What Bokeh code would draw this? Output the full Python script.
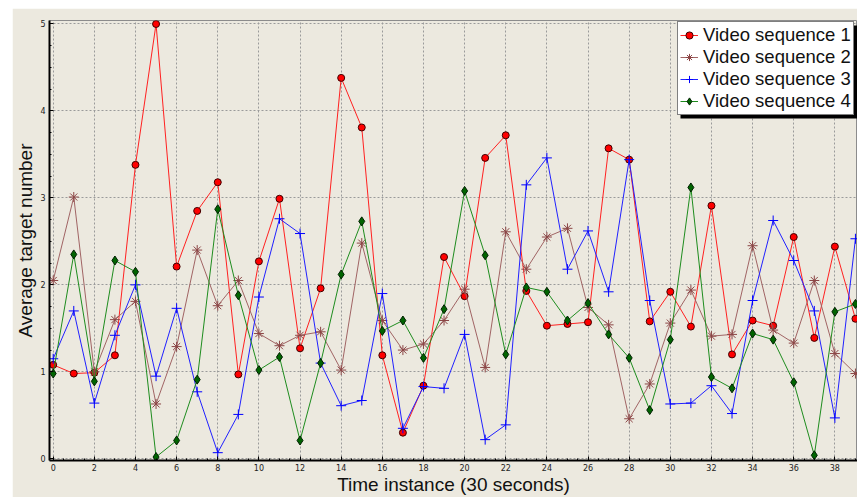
from bokeh.plotting import figure
from bokeh.models import SingleIntervalTicker, Range1d, Legend, LegendItem, Spacer, BoxAnnotation
from bokeh.layouts import column, row
from bokeh.embed import file_html
from bokeh.resources import INLINE

x = list(range(40))
x_ticks_interval = 2
y_ticks_interval = 1

seq1 = [1.08, 0.98, 0.99, 1.19, 3.38, 5.00, 2.21, 2.85, 3.18, 0.97,
        2.27, 2.99, 1.27, 1.96, 4.38, 3.81, 1.19, 0.30, 0.84, 2.32,
        1.87, 3.46, 3.72, 1.93, 1.53, 1.55, 1.57, 3.57, 3.44, 1.58,
        1.92, 1.52, 2.91, 1.20, 1.59, 1.53, 2.55, 1.39, 2.44, 1.61]
seq2 = [2.05, 3.01, 1.00, 1.60, 1.81, 0.63, 1.29, 2.40, 1.76, 2.05,
        1.44, 1.30, 1.42, 1.46, 1.02, 2.48, 1.59, 1.25, 1.32, 1.59,
        1.95, 1.05, 2.61, 2.18, 2.55, 2.65, 1.74, 1.54, 0.46, 0.86,
        1.56, 1.94, 1.41, 1.43, 2.45, 1.48, 1.33, 2.05, 1.21, 0.98]
seq3 = [1.15, 1.70, 0.64, 1.42, 2.00, 0.95, 1.73, 0.77, 0.07, 0.51,
        1.86, 2.76, 2.59, 1.10, 0.61, 0.67, 1.90, 0.35, 0.83, 0.81,
        1.43, 0.22, 0.39, 3.15, 3.46, 2.18, 2.62, 1.92, 3.44, 1.82,
        0.63, 0.64, 0.84, 0.52, 1.82, 2.74, 2.28, 1.70, 0.47, 2.53]
seq4 = [0.98, 2.35, 0.89, 2.28, 2.15, 0.02, 0.21, 0.91, 2.87, 1.88,
        1.02, 1.17, 0.21, 1.10, 2.12, 2.73, 1.47, 1.59, 1.16, 1.72,
        3.08, 2.34, 1.20, 1.97, 1.92, 1.59, 1.79, 1.43, 1.16, 0.56,
        1.37, 3.12, 0.94, 0.81, 1.44, 1.37, 0.88, 0.04, 1.69, 1.78]

names = ["Video sequence 1", "Video sequence 2", "Video sequence 3", "Video sequence 4"]

BG = "#ECE9DF"

p = figure(width=845, height=489, output_backend="svg", toolbar_location=None,
           x_range=Range1d(-0.18, 39.1), y_range=Range1d(-0.02, 5.04),
           min_border_left=37, min_border_right=0, min_border_top=12, min_border_bottom=37)
p.background_fill_color = BG
p.border_fill_color = BG
p.outline_line_color = "#8c8c8c"
p.outline_line_width = 1

p.xaxis.ticker = SingleIntervalTicker(interval=x_ticks_interval, num_minor_ticks=4)
p.yaxis.ticker = SingleIntervalTicker(interval=y_ticks_interval, num_minor_ticks=4)

for ax in (p.xaxis[0], p.yaxis[0]):
    ax.axis_line_color = "black"
    ax.axis_line_width = 2
    ax.major_tick_in = 4
    ax.major_tick_out = 0
    ax.minor_tick_in = 2
    ax.minor_tick_out = 0
    ax.major_tick_line_color = "black"
    ax.minor_tick_line_color = "black"
    ax.major_label_text_font = "DejaVu Sans"
    ax.major_label_text_font_size = "8px"
    ax.major_label_text_color = "#222222"
    ax.axis_label_text_font = "Liberation Sans"
    ax.axis_label_text_font_size = "19px"
    ax.axis_label_text_font_style = "normal"
    ax.axis_label_text_color = "#111111"

p.xaxis.axis_label = "Time instance (30 seconds)"
p.yaxis.axis_label = "Average target number"
p.xaxis.major_label_standoff = 3
p.xaxis.axis_label_standoff = 0
p.yaxis.major_label_standoff = 4
p.yaxis.axis_label_standoff = 1

p.grid.grid_line_color = "#9a9a9a"
p.grid.grid_line_dash = "2 2"
p.grid.grid_line_width = 1

r1l = p.line(x, seq1, line_color="#FF2020", line_width=1)
r1m = p.scatter(x, seq1, marker="circle", size=7, fill_color="#FF0000", line_color="#400000", line_width=1)
r2l = p.line(x, seq2, line_color="#A06464", line_width=1)
r2m = p.scatter(x, seq2, marker="asterisk", size=10, line_color="#8B4545", line_width=1)
r3l = p.line(x, seq3, line_color="#2020FF", line_width=1)
r3m = p.scatter(x, seq3, marker="cross", size=10, line_color="#0000FF", line_width=1)
r4l = p.line(x, seq4, line_color="#1E8C1E", line_width=1)
r4m = p.scatter(x, seq4, marker="diamond", size=9, fill_color="#006400", line_color="#002000", line_width=1)

# legend drop shadow (frame-relative screen units, y measured upward from frame bottom)
shadow = BoxAnnotation(left=631, right=809, top=435, bottom=342,
                       left_units="screen", right_units="screen",
                       top_units="screen", bottom_units="screen",
                       fill_color="black", fill_alpha=1, line_color=None,
                       level="annotation")
p.add_layout(shadow)

legend = Legend(items=[
    LegendItem(label=names[0], renderers=[r1l, r1m]),
    LegendItem(label=names[1], renderers=[r2l, r2m]),
    LegendItem(label=names[2], renderers=[r3l, r3m]),
    LegendItem(label=names[3], renderers=[r4l, r4m]),
], location=(628, 345))
legend.label_text_font = "Liberation Sans"
legend.label_text_font_size = "18.5px"
legend.label_text_color = "#111111"
legend.label_height = 18
legend.glyph_height = 18
legend.glyph_width = 18
legend.label_standoff = 5
legend.spacing = 0
legend.padding = 2
legend.margin = 0
legend.border_line_color = "black"
legend.border_line_width = 1
legend.background_fill_color = "white"
legend.background_fill_alpha = 1
p.add_layout(legend)

page = column(Spacer(width=857, height=8), row(Spacer(width=12, height=489), p), spacing=0)

open("out.html", "w").write(file_html(page, INLINE))
